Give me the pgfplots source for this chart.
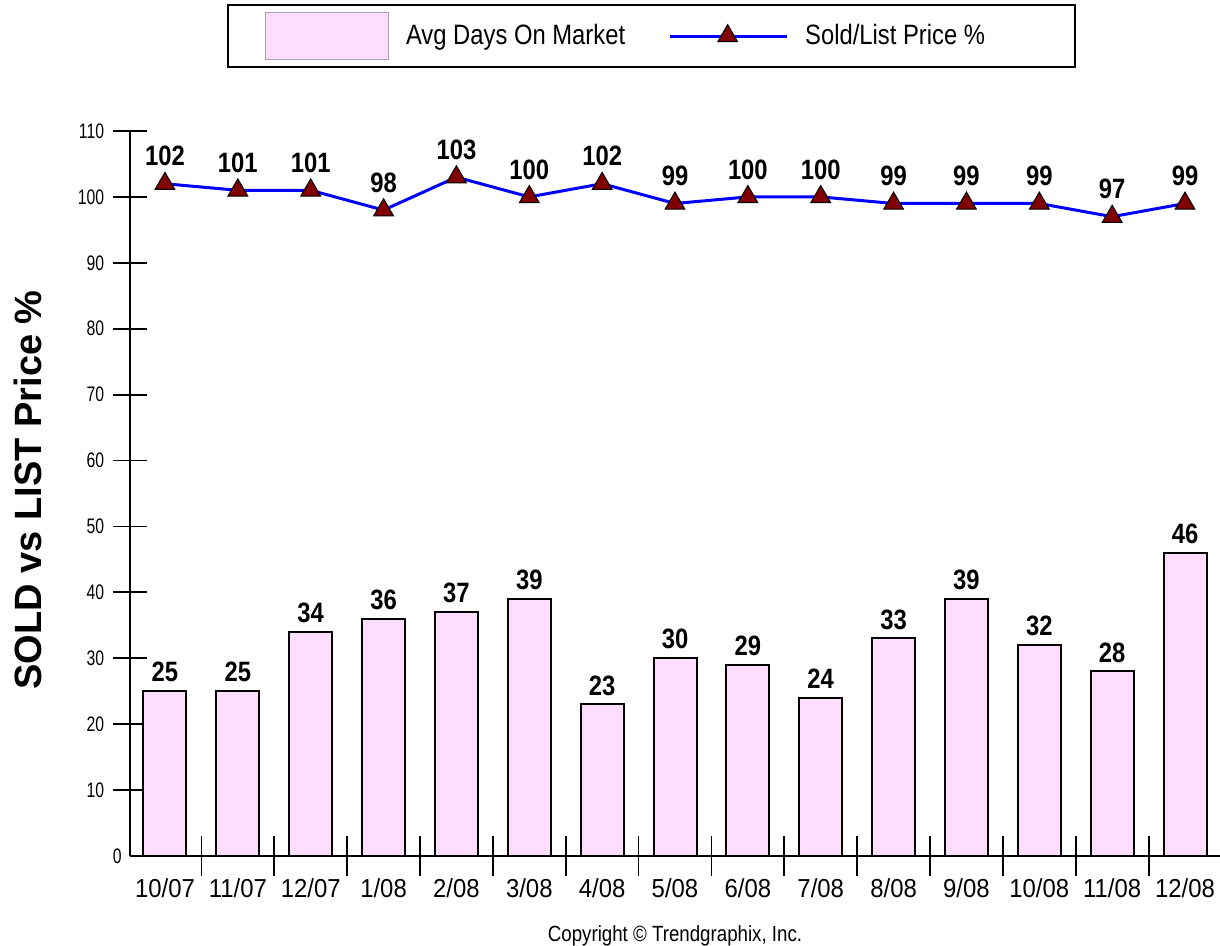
\documentclass[border=0pt]{standalone}
\usepackage{fontspec}
\setmainfont{Liberation Sans}
\newfontfamily\narrowA[FakeStretch=0.85]{Liberation Sans}
\newfontfamily\narrowB[FakeStretch=0.75]{Liberation Sans}
\newfontfamily\narrowC[FakeStretch=0.92]{Liberation Sans}
\usepackage{pgfplots}
\pgfplotsset{compat=1.18}
\definecolor{barpink}{HTML}{FFDDFF}
\definecolor{markred}{HTML}{800000}

\begin{document}
\begin{tikzpicture}
\path[use as bounding box] (0,0) rectangle (610bp,473bp);
\begin{axis}[
    at={(65bp,45bp)}, anchor=south west,
    scale only axis, width=545bp, height=362.5bp,
    xmin=-0.48, xmax=14.48, ymin=0, ymax=110,
    axis x line=bottom, axis y line=left,
    axis line style={-, line width=0.9bp},
    /pgf/number format/assume math mode=true,
    xtick={0,...,14},
    xticklabels={10/07,11/07,12/07,1/08,2/08,3/08,4/08,5/08,6/08,7/08,8/08,9/08,10/08,11/08,12/08},
    major x tick style={draw=none},
    minor xtick={0.5,1.5,...,13.5},
    ytick={10,20,...,110},
    extra y ticks={0},
    extra y tick style={major tick length=0pt},
    tick align=center,
    major tick length=17.5bp,
    minor tick length=20bp,
    tick style={black, line width=0.9bp},
    xticklabel style={anchor=north, inner sep=0pt, yshift=-2.5bp,
        font=\fontsize{13bp}{15bp}\narrowC},
    yticklabel style={anchor=east, inner sep=0pt, xshift=-4bp,
        font=\fontsize{10.5bp}{12bp}\narrowB},
    ylabel={SOLD vs LIST Price \%},
    every axis y label/.style={at={(axis description cs:-0.0936,0.505)},
        rotate=90, anchor=center, font=\fontsize{19bp}{22bp}\selectfont\bfseries},
    xlabel={Copyright \textcopyright\ Trendgraphix, Inc.},
    every axis x label/.style={at={(axis description cs:0.5,-0.11)},
        anchor=center, font=\fontsize{11bp}{13bp}\narrowA},
    legend style={at={(0.4784,1.131)}, anchor=center, draw=black,
        line width=1bp, inner xsep=18.5bp, inner ysep=3.5bp,
        font=\fontsize{14bp}{16bp}\narrowA,
        nodes={inner sep=0pt},
        /tikz/every odd column/.append style={column sep=8.5bp},
        /tikz/every even column/.append style={column sep=21.5bp}},
    legend columns=2,
    clip=false,
]
\addplot[ybar, bar width=21.5bp, fill=barpink, draw=black, line width=1bp,
    legend image code/.code={\draw[fill=barpink, draw=gray!70, line width=0.6bp]
        (0bp,-11.75bp) rectangle (61.5bp,11.75bp);},
    nodes near coords,
    nodes near coords style={font=\fontsize{14bp}{16bp}\narrowA\bfseries,
        black, anchor=south, inner sep=0pt, yshift=4bp}]
coordinates {(0,25)(1,25)(2,34)(3,36)(4,37)(5,39)(6,23)(7,30)(8,29)(9,24)(10,33)(11,39)(12,32)(13,28)(14,46)};
\addplot[blue, line width=1.5bp, mark=triangle*, mark size=5.7bp,
    mark options={fill=markred, draw=black, line width=0.5bp},
    legend image code/.code={\draw[mark repeat=2, mark phase=2]
        plot coordinates {(0bp,0bp)(29bp,0bp)(58.5bp,0bp)};},
    nodes near coords,
    nodes near coords style={font=\fontsize{14bp}{16bp}\narrowA\bfseries,
        black, anchor=south, inner sep=0pt, yshift=8.5bp}]
coordinates {(0,102)(1,101)(2,101)(3,98)(4,103)(5,100)(6,102)(7,99)(8,100)(9,100)(10,99)(11,99)(12,99)(13,97)(14,99)};
\legend{Avg Days On Market, Sold/List Price \%\hspace*{26.5bp}}
\end{axis}
\end{tikzpicture}
\end{document}
